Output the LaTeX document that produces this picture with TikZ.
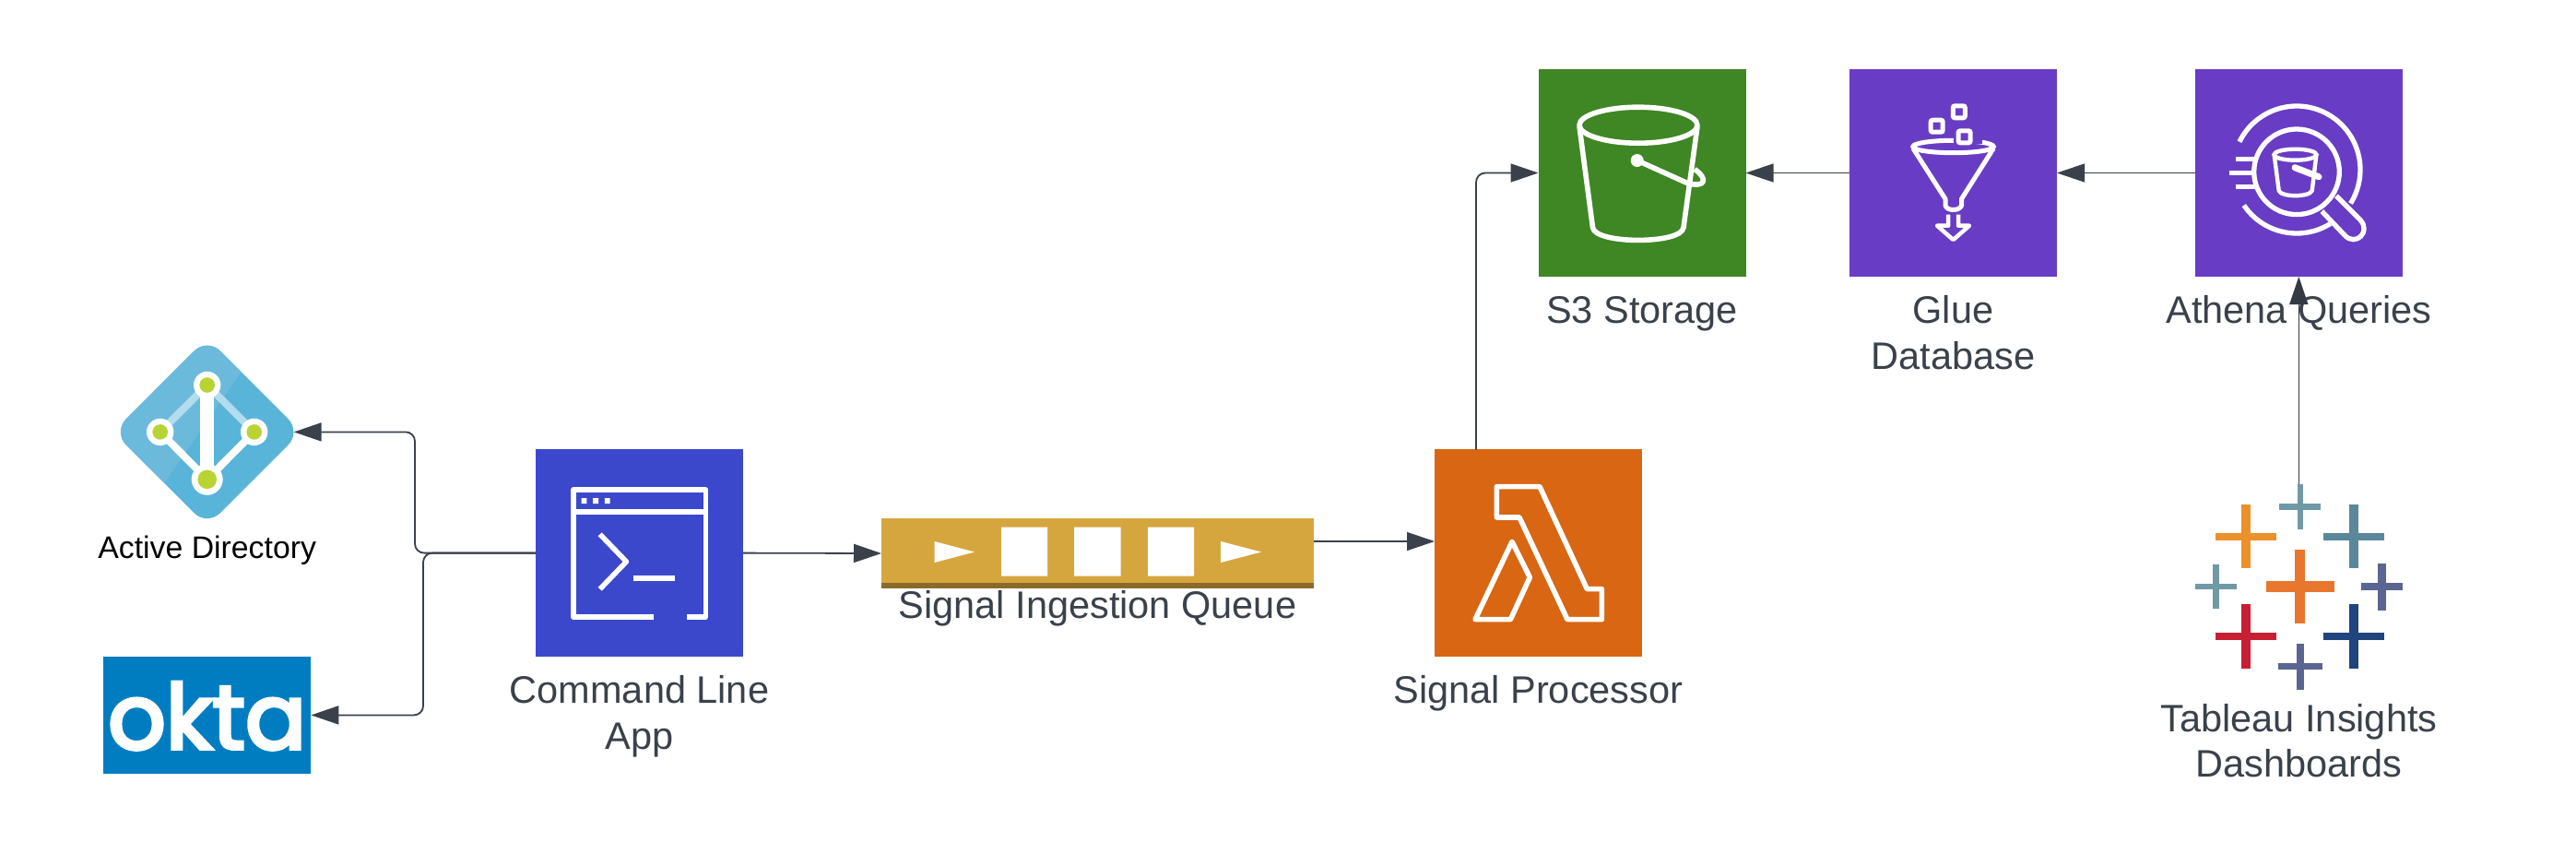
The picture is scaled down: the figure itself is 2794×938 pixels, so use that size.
\documentclass[tikz,border=0pt]{standalone}
\usepackage{fontspec}
\setmainfont{Liberation Sans}
\newfontfamily\oktafont[FakeBold=4]{Poppins}
\usetikzlibrary{arrows.meta}
\definecolor{ink}{HTML}{3A414A}
\definecolor{cmdblue}{HTML}{3B48CC}
\definecolor{s3green}{HTML}{3F8624}
\definecolor{anapurple}{HTML}{693CC5}
\definecolor{lamorange}{HTML}{D86613}
\definecolor{qgold}{HTML}{D6A63E}
\definecolor{qdark}{HTML}{8A6A2B}
\definecolor{adlight}{HTML}{6BBADB}
\definecolor{addark}{HTML}{59B4D9}
\definecolor{adpale}{HTML}{B3DCEE}
\definecolor{adgreen}{HTML}{B8D432}
\definecolor{oktablue}{HTML}{007DC1}
\definecolor{tteal}{HTML}{7099A6}
\definecolor{tblue}{HTML}{5B879B}
\definecolor{torange}{HTML}{EB912B}
\definecolor{tcenter}{HTML}{E8762C}
\definecolor{tpurple}{HTML}{5B6591}
\definecolor{tred}{HTML}{C72035}
\definecolor{tnavy}{HTML}{1F447E}
\newcommand{\tabplus}[7]{%
  \fill[#7] ({#1-#3/2},{#2-#4/2}) rectangle ({#1+#3/2},{#2+#4/2});
  \fill[#7] ({#1-#5/2},{#2-#6/2}) rectangle ({#1+#5/2},{#2+#6/2});}
\tikzset{
  x=1pt,y=-1pt,
  iconbox/.style={draw=none,inner sep=0pt,outer sep=0pt,minimum size=225pt},
  lbl/.style={text=ink,anchor=base,align=center,font=\fontsize{41.5}{50}\selectfont},
  glyph/.style={draw=white,line width=5.6pt,line join=round},
  wire/.style={draw=ink,line width=1.8pt,rounded corners=10pt},
  thin wire/.style={draw=ink,line width=1.3pt,rounded corners=10pt},
  tip/.style={-{Triangle[length=30pt,width=20pt]}},
}
\begin{document}
\begin{tikzpicture}
\useasboundingbox (0,0) rectangle (2794,938);
\fill[white] (0,0) rectangle (2794,938);

% boxes
\node[iconbox,fill=cmdblue] (cmd) at (693.5,599.6) {};
\node[iconbox,fill=lamorange] (lam) at (1668.5,599.6) {};
\node[iconbox,fill=s3green] (s3) at (1781,187.5) {};
\node[iconbox,fill=anapurple] (glue) at (2118.5,187.5) {};
\node[iconbox,fill=anapurple] (ath) at (2493.5,187.5) {};
\node[inner sep=0pt,outer sep=0pt,fill=oktablue,minimum width=225.3pt,minimum height=127.7pt] (okta) at (224.7,775.4) {};
\node[inner sep=0pt,outer sep=0pt,minimum size=188pt] (ad) at (224.7,468.4) {};
\node[inner sep=0pt,outer sep=0pt,fill=qgold,minimum width=469pt,minimum height=76pt] (queue) at (1190.5,600) {};
\node[inner sep=0pt,outer sep=0pt,minimum width=225pt,minimum height=225pt] (tab) at (2493.5,637.5) {};

% Active Directory icon
\begin{scope}
  \clip[rounded corners=20pt] (224.7,366.4) -- (326.7,468.4) -- (224.7,570.4) -- (122.7,468.4) -- cycle;
  \fill[addark] (100,350) rectangle (350,590);
  \fill[adlight] (100,350) -- (300,350) -- (260,405.4) -- (176.7,526) -- (140,590) -- (100,590) -- cycle;
\end{scope}
\draw[adpale,line width=8pt] (173.7,468.4) -- (224.7,417.5) -- (275.7,468.4);
\draw[white,line width=8pt] (173.7,468.4) -- (224.7,519.8) -- (275.7,468.4);
\draw[white,line width=14.7pt] (224.7,417.5) -- (224.7,519.8);
\foreach \cx/\cy/\ro/\ri in {224.7/417.5/14.7/8.3,173.7/468.4/14.7/8.3,275.7/468.4/14.7/8.3,224.7/519.8/17/10.3}{
  \fill[white] (\cx,\cy) circle[radius=\ro pt];
  \fill[adgreen] (\cx,\cy) circle[radius=\ri pt];
}

% okta wordmark
\node[anchor=base,text=white,inner sep=0pt,font=\oktafont\fontsize{98}{98}\selectfont] (oktaword) at (224.7,812) {okta};

% Command line icon
\draw[glyph,line cap=butt] (708.7,668.8) -- (622,668.8) -- (622,531) -- (765.5,531) -- (765.5,668.8) -- (745,668.8);
\draw[glyph] (622,555) -- (765.5,555);
\fill[white] (630.6,540) rectangle (636.3,546) (643.2,540) rectangle (649,546) (655.9,540) rectangle (661.6,546);
\draw[glyph] (650.7,579.3) -- (679.4,609) -- (650.7,638.7);
\fill[white] (687.4,624) rectangle (732,630);

% Queue icon
\fill[qdark] (956,632) rectangle (1425,638);
\fill[white] (1013.5,587) -- (1057,598.5) -- (1013.5,610) -- cycle;
\fill[white] (1324,587) -- (1368,598.5) -- (1324,610) -- cycle;
\fill[white] (1086,571.7) rectangle (1136,624.7) (1165,571.7) rectangle (1215.6,624.7) (1245,571.7) rectangle (1295,624.7);

% Lambda icon
\begin{scope}[shift={(1530,480)},xscale=1/3,yscale=1/3]
  \draw[glyph] (280,143) -- (420,143) -- (574,476) -- (622,476) -- (622,575) -- (510,575) -- (354,243) -- (280,243) -- cycle;
  \draw[glyph] (330,322) -- (388,438) -- (325,575) -- (210,575) -- cycle;
\end{scope}

% S3 bucket
\draw[glyph] (1777,135.7) ellipse[x radius=64pt,y radius=19.5pt];
\draw[glyph] (1713,137) -- (1727.5,246.7) .. controls (1730,265) and (1824,265) .. (1826,246.7) -- (1841,137);
\fill[white] (1775.7,174) circle[radius=7pt];
\draw[glyph] (1775.7,174) -- (1830,198.5) .. controls (1850,204) and (1853,194) .. (1838,183.5);

% Glue icon
\draw[white,line width=5pt] (2118.5,159) ellipse[x radius=43.75pt,y radius=6.7pt];
\fill[anapurple] (2118.5,148) rectangle (2150,156);
\draw[glyph,line width=5pt] (2074.8,160.7) -- (2110,215.7) -- (2110,223) .. controls (2112,229) and (2125,229) .. (2127.5,223) -- (2127.5,215.7) -- (2162.3,160.7);
\draw[glyph,line width=4.5pt] (2113.2,232.7) -- (2113.2,244.7) -- (2101,244.7) -- (2118.5,260) -- (2136,244.7) -- (2124,244.7) -- (2124,232.7);
\foreach \cx/\cy in {2124.8/121.3,2100.7/136.7,2130.6/148.3}{
  \draw[white,line width=5pt,rounded corners=2pt] (\cx-6.5,\cy-6.5) rectangle (\cx+6.5,\cy+6.5);
}

% Athena icon
\draw[white,line width=5.3pt] ({2491+69*cos(154)},{184-69*sin(154)}) arc[start angle=154,end angle=-32,radius=69pt];
\draw[white,line width=5.3pt] ({2491+69*cos(-58)},{184-69*sin(-58)}) arc[start angle=-58,end angle=-146,radius=69pt];
\draw[white,line width=5.3pt] (2491,186.3) circle[radius=46.3pt];
\draw[white,line width=5.3pt] (2425,172.7) -- (2446,172.7) (2418.3,187.7) -- (2444.7,187.7) (2425,202.7) -- (2448,202.7);
\draw[white,line width=5.3pt,line join=round] (2534,212.3) -- (2560,238.5) .. controls (2572,251) and (2555,268) .. (2543,255) -- (2518.3,229);
\draw[white,line width=4.4pt] (2489.5,167.7) ellipse[x radius=23pt,y radius=6pt];
\draw[white,line width=4.4pt,line join=round] (2466.7,168.3) -- (2471.7,206.7) .. controls (2474,214) and (2505,214) .. (2507.7,206.7) -- (2512.3,168.3);
\draw[white,line width=7pt,line cap=round] (2489,181.7) -- (2515,191.7);

% Tableau marks
\begin{scope}[shift={(2320,500)},xscale=1/3,yscale=1/3]
  \tabplus{524}{148}{18}{145}{134}{19}{tteal}
  \tabplus{348}{245}{28}{207}{198}{25}{torange}
  \tabplus{699}{245}{30}{207}{198}{25}{tblue}
  \tabplus{251}{408}{22}{143}{134}{17}{tteal}
  \tabplus{524}{408}{34}{238}{222}{34}{tcenter}
  \tabplus{791}{408}{28}{153}{136}{22}{tpurple}
  \tabplus{348}{570}{30}{208}{198}{25}{tred}
  \tabplus{699}{570}{30}{208}{198}{25}{tnavy}
  \tabplus{524}{668}{25}{150}{143}{22}{tpurple}
\end{scope}

% Labels
\node[text=black,anchor=base,font=\fontsize{33.8}{40}\selectfont] (adl) at (224.7,605) {Active Directory};
\node[lbl] (cmdl) at (693.5,762) {Command Line};
\node[lbl] (cmdl2) at (693.5,812) {App};
\node[lbl] (ql) at (1190.5,670) {Signal Ingestion Queue};
\node[lbl] (laml) at (1668.5,762) {Signal Processor};
\node[lbl] (s3l) at (1781,350) {S3 Storage};
\node[lbl] (gl) at (2118.5,350) {Glue};
\node[lbl] (gl2) at (2118.5,400) {Database};
\node[lbl] (al) at (2493.5,350) {Athena Queries};
\node[lbl] (tl) at (2493.5,793) {Tableau Insights};
\node[lbl] (tl2) at (2493.5,842) {Dashboards};

% Connectors
\coordinate (adbend) at (450,599.6);
\coordinate (oktabend) at (459,599.6);
\coordinate (qout) at (1425,587);
\coordinate (lamin) at (1556,587);
\coordinate (lamtop) at (1601,487.5);
\coordinate (s3bend) at (1601,187.5);
\coordinate (tabtop) at (2493.3,525);
\coordinate (athbot) at (2493.3,300);
\draw[wire,tip] (cmd.west) -- (adbend) |- (ad.east);
\draw[wire,tip] (cmd.west) -- (oktabend) |- (okta.east);
\draw[wire,tip] (cmd.east) -- (queue.west);
\draw[thin wire,tip] (qout) -- (lamin);
\draw[wire,tip] (lamtop) -- (s3bend) -- (s3.west);
\draw[thin wire,tip] (glue.west) -- (s3.east);
\draw[thin wire,tip] (ath.west) -- (glue.east);
\draw[thin wire,draw=ink!90!black,tip] (tabtop) -- (athbot);
\end{tikzpicture}
\end{document}
